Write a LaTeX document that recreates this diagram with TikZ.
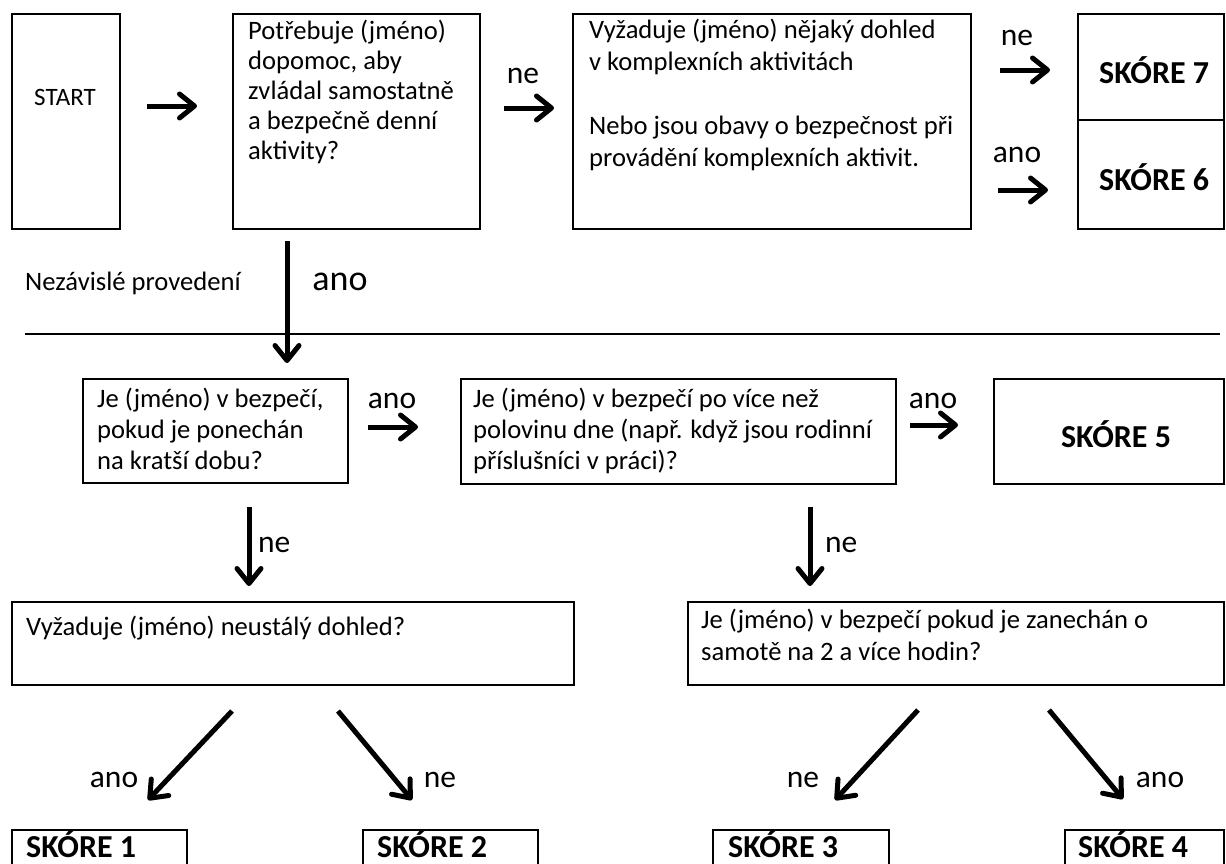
\documentclass[tikz,border=0pt]{standalone}
\usepackage{fontspec}
\setmainfont{Carlito}
\usetikzlibrary{arrows.meta}

\tikzset{
  box/.style={draw,line width=1.6pt,inner sep=0pt,anchor=north west},
  txt/.style={inner sep=0pt,anchor=base west,align=left,font=\fontsize{26.6}{31}\selectfont},
  lab/.style={inner sep=0pt,anchor=base,font=\fontsize{31.5}{36}\selectfont},
  score/.style={inner sep=0pt,anchor=base west,font=\fontsize{32}{36}\selectfont\bfseries},
  arr/.style={line width=5pt,-{Straight Barb[length=15pt,width=24pt,round]}}
}

\begin{document}
\begin{tikzpicture}[x=1pt,y=-1pt]
	\clip (0,0) rectangle (1226,863);
	\fill[white] (0,0) rectangle (1226,863);

	% boxes
	\node[box,minimum width=108,minimum height=215] (start) at (11,13) {};
	\node[box,minimum width=247,minimum height=215] (dopomoc) at (232,13) {};
	\node[box,minimum width=398,minimum height=215] (dohled) at (572,13) {};
	\node[box,minimum width=146,minimum height=106] (s7) at (1077,13) {};
	\node[box,minimum width=146,minimum height=109] (s6) at (1077,119) {};
	\node[box,minimum width=265,minimum height=104] (kratsi) at (82,378) {};
	\node[box,minimum width=435,minimum height=105] (polovina) at (460,378) {};
	\node[box,minimum width=230,minimum height=105] (s5) at (993,378) {};
	\node[box,minimum width=562,minimum height=83] (neustaly) at (11,601) {};
	\node[box,minimum width=536,minimum height=83] (samota) at (687,601) {};
	\node[box,minimum width=175,minimum height=60] (s1) at (11,829) {};
	\node[box,minimum width=175,minimum height=60] (s2) at (362,829) {};
	\node[box,minimum width=176,minimum height=60] (s3) at (712,829) {};
	\node[box,minimum width=159,minimum height=60] (s4) at (1064,829) {};

	% texts (base = last line)
	\node[lab,font=\fontsize{25}{30}\selectfont] (tstart) at (65,105) {START};
	\node[txt,font=\fontsize{26.6}{30}\selectfont] (tdopomoc) at (248,159) {Potřebuje (jméno)\\dopomoc, aby\\zvládal samostatně\\a bezpečně denní\\aktivity?};
	\node[txt,font=\fontsize{26.6}{32}\selectfont] (tdohled) at (589,166) {Vyžaduje (jméno) nějaký dohled\\v komplexních aktivitách\\[32pt]Nebo jsou obavy o bezpečnost při\\provádění komplexních aktivit.};
	\node[score] (ts7) at (1099,83) {SKÓRE 7};
	\node[score] (ts6) at (1099,190) {SKÓRE 6};
	\node[txt] (nezav) at (25,290) {Nezávislé provedení};
	\node[txt] (tkratsi) at (97,469) {Je (jméno) v bezpečí,\\pokud je ponechán\\na kratší dobu?};
	\node[txt] (tpolovina) at (473,469) {Je (jméno) v bezpečí po více než\\polovinu dne (např. když jsou rodinní\\příslušníci v práci)?};
	\node[score,anchor=base] (ts5) at (1116,447) {SKÓRE 5};
	\node[txt] (tneustaly) at (26,635) {Vyžaduje (jméno) neustálý dohled?};
	\node[txt,font=\fontsize{26.6}{32}\selectfont] (tsamota) at (701,660) {Je (jméno) v bezpečí pokud je zanechán o\\samotě na 2 a více hodin?};
	\node[score] (ts1) at (26,857) {SKÓRE 1};
	\node[score] (ts2) at (377,857) {SKÓRE 2};
	\node[score] (ts3) at (728,857) {SKÓRE 3};
	\node[score] (ts4) at (1078,857) {SKÓRE 4};

	% labels
	\node[lab] (ne1) at (523,83) {ne};
	\node[lab] (ne2) at (1017,45) {ne};
	\node[lab] (ano1) at (1017,162) {ano};
	\node[lab,font=\fontsize{36}{40}\selectfont] (ano2) at (340,290) {ano};
	\node[lab] (ano3) at (392,408) {ano};
	\node[lab] (ano4) at (933,408) {ano};
	\node[lab,anchor=base west] (ne3) at (258,552) {ne};
	\node[lab,anchor=base west] (ne4) at (825,552) {ne};
	\node[lab] (ano5) at (114,787) {ano};
	\node[lab] (ne5) at (440,787) {ne};
	\node[lab] (ne6) at (803,787) {ne};
	\node[lab] (ano6) at (1160,787) {ano};

	% arrows
	\coordinate (a1) at (147,106); \coordinate (b1) at (197,106);
	\coordinate (a2) at (504,108); \coordinate (b2) at (554,108);
	\coordinate (a3) at (1000,70); \coordinate (b3) at (1050,70);
	\coordinate (a4) at (998,190); \coordinate (b4) at (1048,190);
	\coordinate (a5) at (287,241); \coordinate (b5) at (287,363);
	\coordinate (a6) at (368,427); \coordinate (b6) at (418,427);
	\coordinate (a7) at (910,425); \coordinate (b7) at (958,425);
	\coordinate (a8) at (249,507); \coordinate (b8) at (249,586);
	\coordinate (a9) at (810,507); \coordinate (b9) at (810,586);
	\coordinate (a10) at (232,711); \coordinate (b10) at (148,800);
	\coordinate (a11) at (338,711); \coordinate (b11) at (412,800);
	\coordinate (a12) at (918,710); \coordinate (b12) at (835,800);
	\coordinate (a13) at (1049,710); \coordinate (b13) at (1123,799);
	\foreach \i in {1,...,13} \draw[arr] (a\i)--(b\i);

	% dividing line
	\coordinate (r1) at (25,334); \coordinate (r2) at (1220,334);
	\draw[line width=1.2pt] (r1)--(r2);
\end{tikzpicture}
\end{document}
